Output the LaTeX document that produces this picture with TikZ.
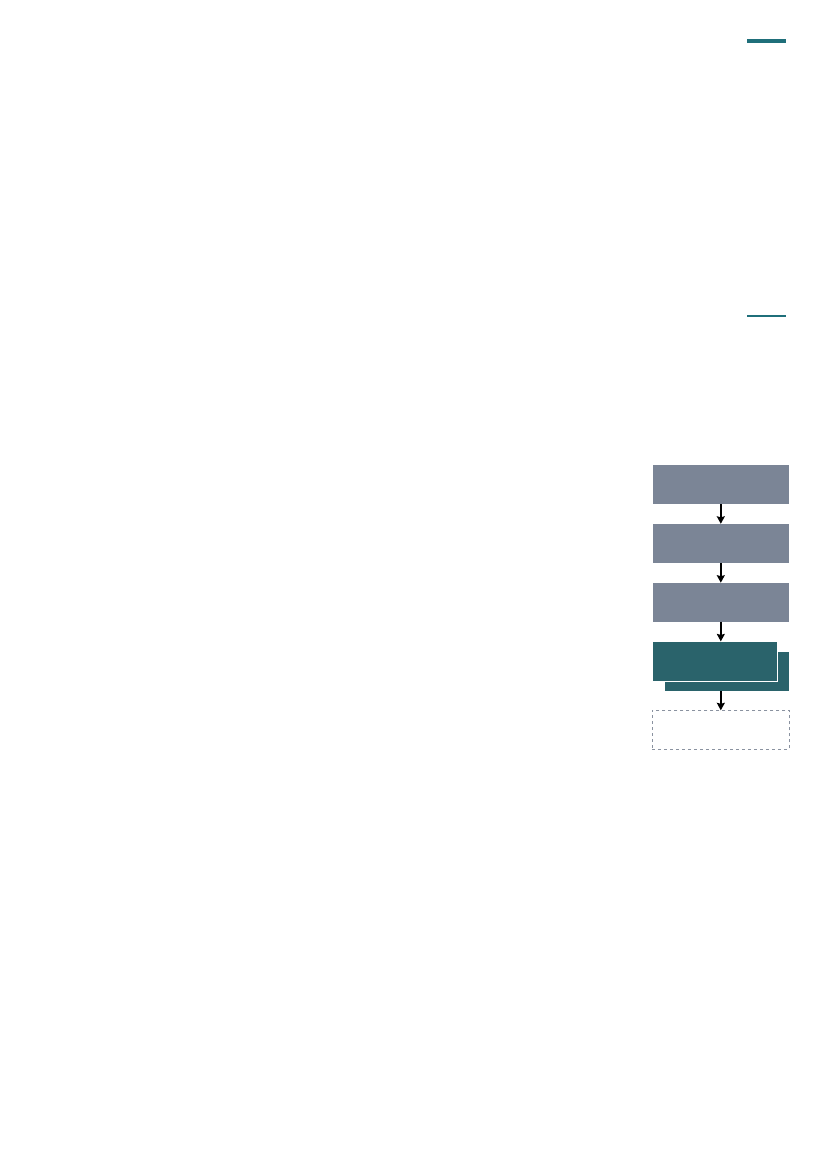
\documentclass[tikz,border=0pt]{standalone}
\usetikzlibrary{arrows.meta}
\definecolor{slate}{HTML}{7B8596}
\definecolor{tealbox}{HTML}{2A636B}
\definecolor{tealline}{HTML}{1F6F7A}
\definecolor{dashgray}{HTML}{8A92A0}
\tikzset{
  graybox/.style={fill=slate, draw=none, minimum width=136pt, minimum height=39pt, inner sep=0pt, outer sep=0pt},
  stackbox/.style={fill=tealbox, draw=white, line width=1pt, minimum width=125pt, minimum height=40pt, inner sep=0pt, outer sep=0pt},
  ghostbox/.style={draw=dashgray, dashed, line width=0.8pt, fill=white, minimum width=137pt, minimum height=39pt, inner sep=0pt, outer sep=0pt},
  flow/.style={-{Stealth[length=7.5pt,width=8pt,inset=1pt]}, line width=1.5pt, black},
  rule/.style={draw=tealline, line cap=butt}
}
\begin{document}
\begin{tikzpicture}[x=1pt,y=-1pt]
\useasboundingbox (0,0) rectangle (827,1169);
\coordinate (r1a) at (747,40.8);
\coordinate (r1b) at (786,40.8);
\draw[rule, line width=3.5pt] (r1a) -- (r1b);
\coordinate (r2a) at (747,315.8);
\coordinate (r2b) at (786,315.8);
\draw[rule, line width=2pt] (r2a) -- (r2b);

\node[graybox] (b1) at (720.8,484.5) {};
\node[graybox] (b2) at (720.8,543.3) {};
\node[graybox] (b3) at (720.8,602.2) {};
\node[stackbox] (b4back) at (726.7,671.2) {};
\node[stackbox] (b4) at (715,661.4) {};
\node[ghostbox] (b5) at (720.8,729.8) {};

\draw[flow] (b1.south) -- (b2.north);
\draw[flow] (b2.south) -- (b3.north);
\draw[flow] (b3.south) -- (b4.north -| b3.south);
\draw[flow] (b4back.south -| b5.north) -- (b5.north);
\end{tikzpicture}
\end{document}
